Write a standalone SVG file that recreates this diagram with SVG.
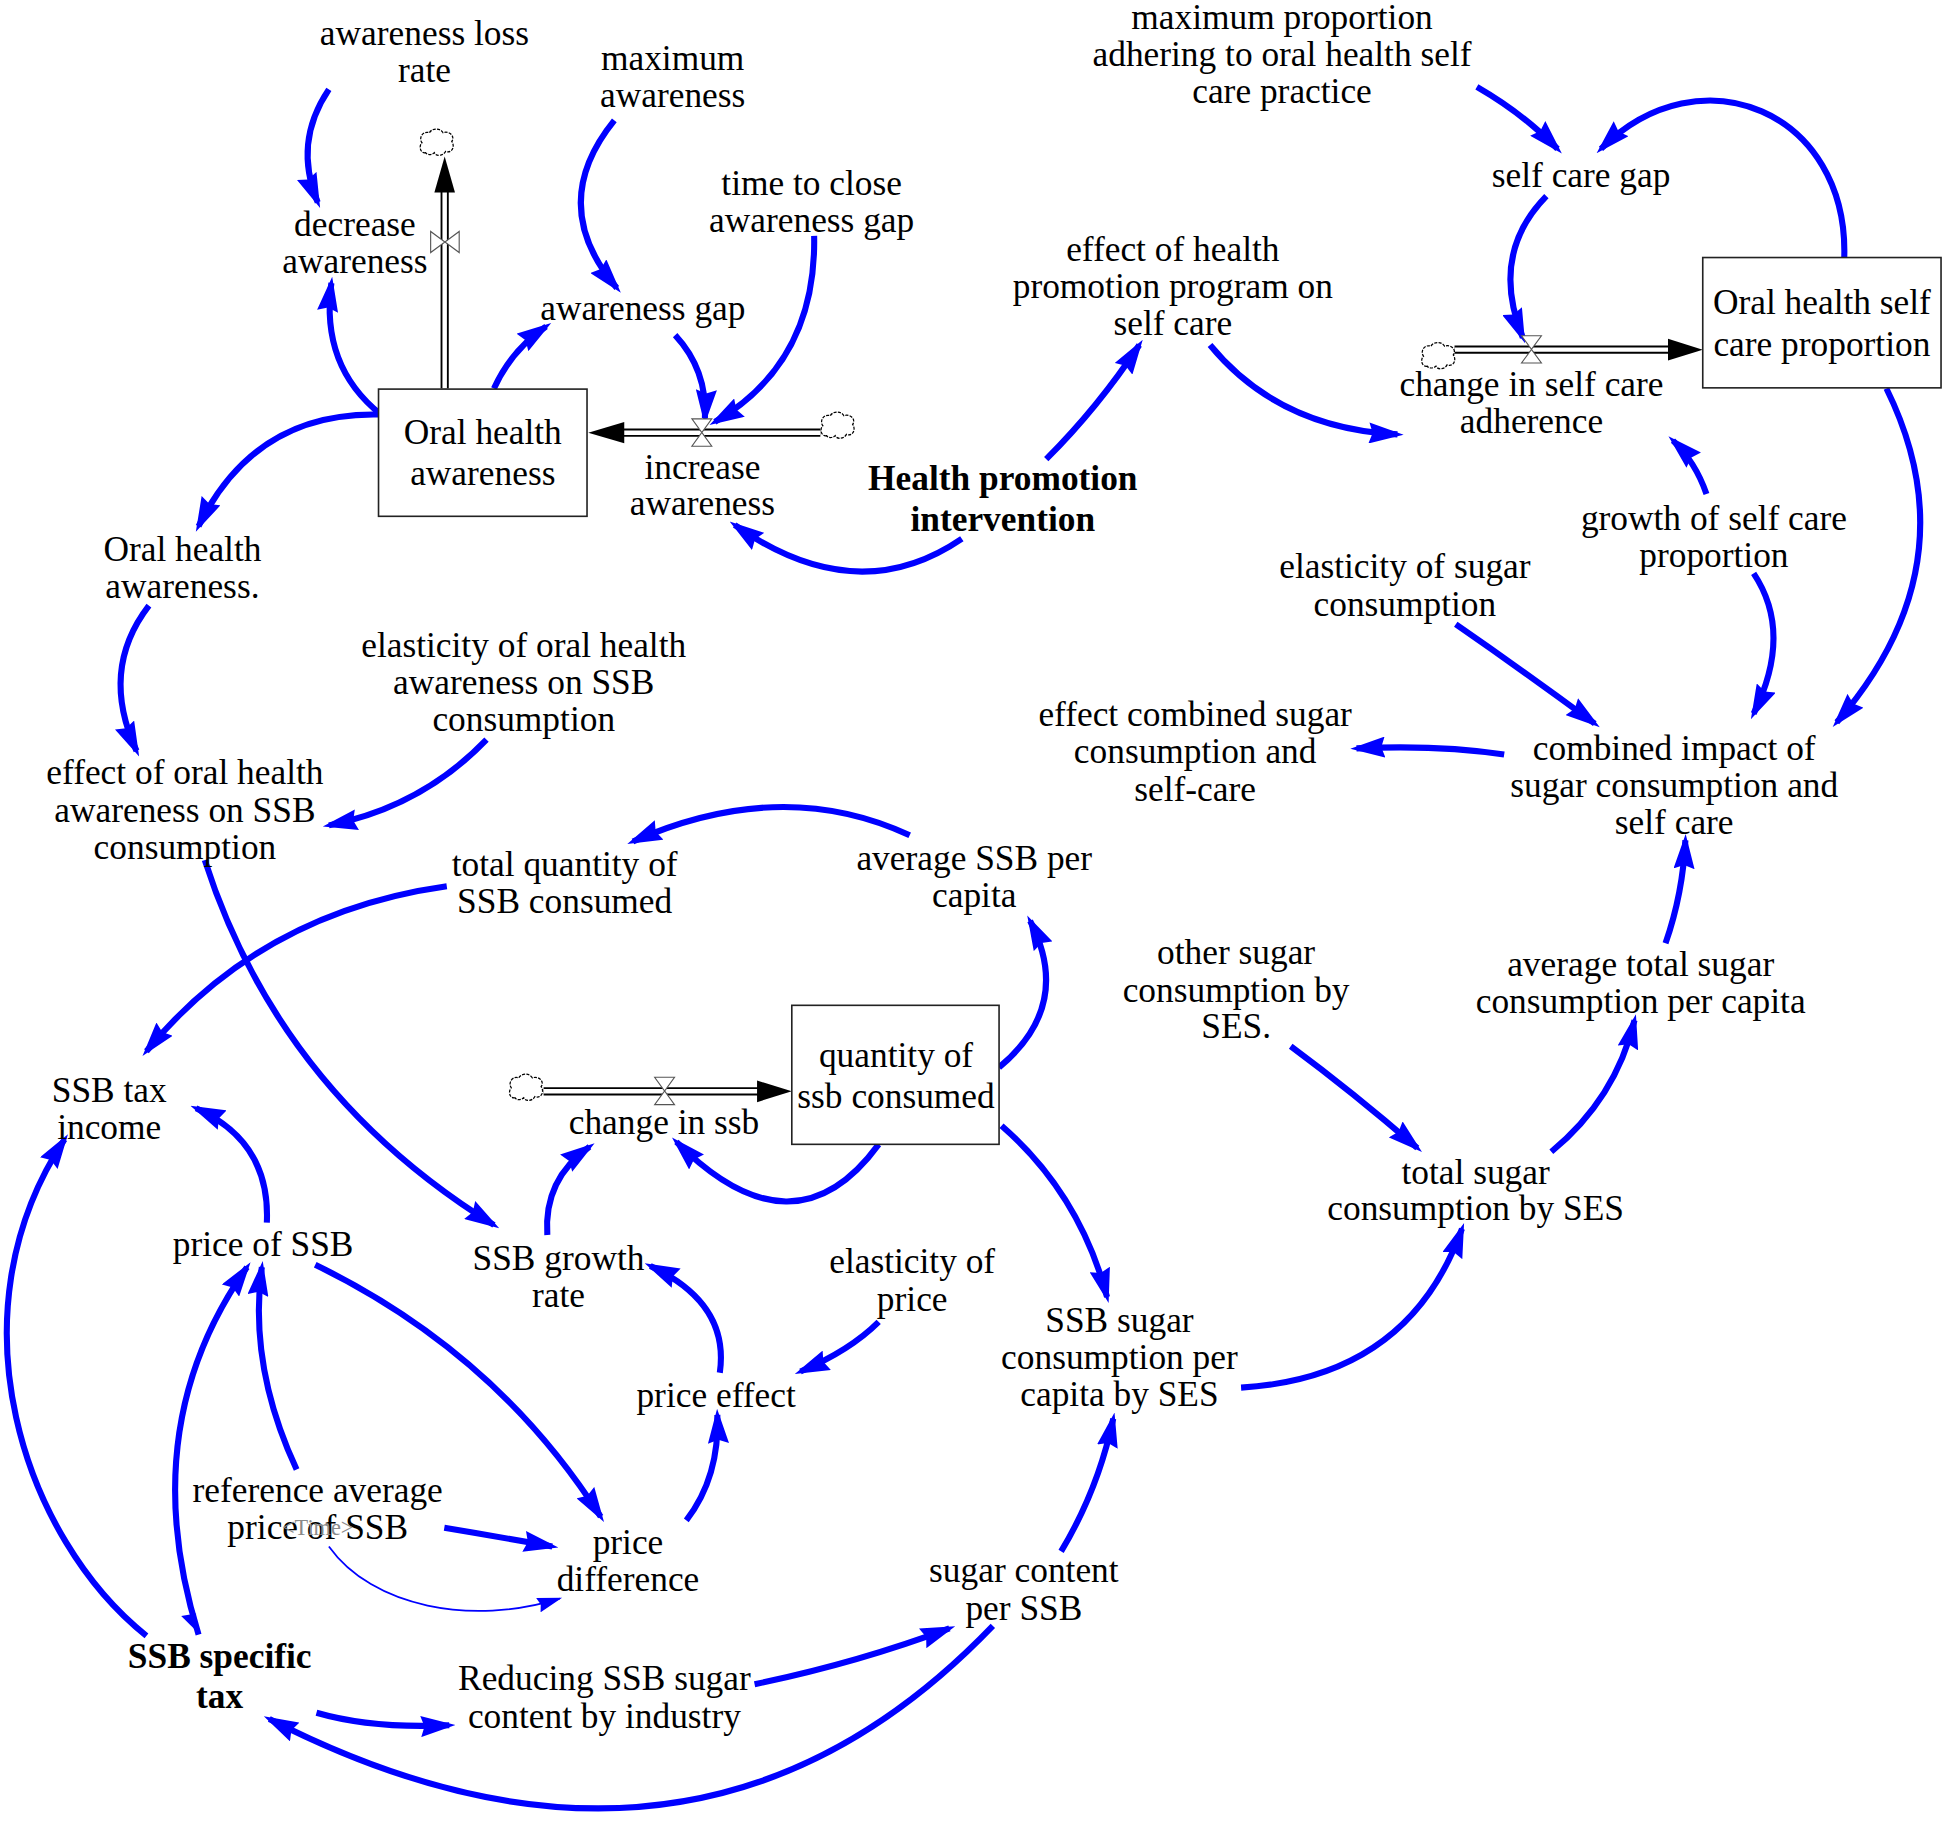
<svg xmlns="http://www.w3.org/2000/svg" width="1946" height="1822" viewBox="0 0 1946 1822">
<style>
.t{font-family:"Liberation Serif","Times New Roman",serif;font-size:28.5px;text-anchor:middle;fill:#000}
.b{font-weight:bold}
.tm{font-family:"Liberation Serif","Times New Roman",serif;font-size:18px;text-anchor:middle;fill:#8a8a8a}
.lnk{fill:none;stroke:#0000ff;stroke-width:4.9;marker-end:url(#ah)}
.thin{fill:none;stroke:#0000ff;stroke-width:1.4;marker-end:url(#ahs)}
.box{fill:#fff;stroke:#222;stroke-width:1.3}
.pipeo{stroke:#000;stroke-width:6.6;fill:none}
.pipei{stroke:#fff;stroke-width:3.6;fill:none}
.valve{fill:#fff;stroke:#555;stroke-width:0.9}
.cloud{fill:#fff;stroke:#000;stroke-width:1;stroke-dasharray:2.5 1}
.fa{fill:#000}
</style>
<defs>
<marker id="ah" viewBox="0 0 28 17" refX="23" refY="8.5" markerWidth="28" markerHeight="17" markerUnits="userSpaceOnUse" orient="auto"><path d="M0,0 L28,8.5 L0,17 L3,8.5 Z" fill="#0000ff"/></marker>
<marker id="ahs" viewBox="0 0 20 12" refX="18" refY="6" markerWidth="20" markerHeight="12" markerUnits="userSpaceOnUse" orient="auto"><path d="M0,0 L20,6 L0,12 L2,6 Z" fill="#0000ff"/></marker>
<path id="cloud" d="M-9,8 C-13,9 -15,3 -12,0 C-15,-4 -11,-10 -6,-8 C-4,-12 3,-12 5,-8 C10,-10 15,-5 12,-1 C15,3 12,9 7,7 C5,11 -1,11 -2,8 C-4,10 -8,10 -9,8 Z"/>
<path id="vv" d="M-8,-11 L8,-11 L0,0 Z M-8,11 L8,11 L0,0 Z"/>
<path id="vh" d="M-11.5,-8.5 L-11.5,8.5 L0,0 Z M11.5,-8.5 L11.5,8.5 L0,0 Z"/>
</defs>
<rect width="1946" height="1822" fill="#fff"/>
<g transform="scale(1.24107,1.24114)">

<g id="connectors">
<path class="lnk" d="M265,72 Q236,115 256,163"/>
<path class="lnk" d="M307,334 Q258,295 267,228"/>
<path class="lnk" d="M398,313 Q412,282 440,263"/>
<path class="lnk" d="M495,97 Q440,165 497,232"/>
<path class="lnk" d="M544,270 Q570,298 568,337"/>
<path class="lnk" d="M656,190 Q658,292 576,340"/>
<path class="lnk" d="M775,434 Q690,492 592,423"/>
<path class="lnk" d="M843,370 Q885,328 918,278"/>
<path class="lnk" d="M975,278 Q1030,345 1126,350"/>
<path class="lnk" d="M1486,208 C1490,90 1370,40 1290,120"/>
<path class="lnk" d="M1190,70 Q1228,92 1255,120"/>
<path class="lnk" d="M1246,158 Q1200,205 1227,272"/>
<path class="lnk" d="M1375,398 Q1366,372 1348,355"/>
<path class="lnk" d="M1520,313 Q1590,455 1480,582"/>
<path class="lnk" d="M1413,462 Q1445,510 1413,575"/>
<path class="lnk" d="M1173,503 Q1228,541 1285,583"/>
<path class="lnk" d="M1212,608 Q1160,600 1093,603"/>
<path class="lnk" d="M305,334 Q205,332 160,424"/>
<path class="lnk" d="M120,488 Q80,540 110,605"/>
<path class="lnk" d="M392,596 Q340,650 265,665"/>
<path class="lnk" d="M165,693 Q225,880 398,987"/>
<path class="lnk" d="M360,714 Q210,735 118,847"/>
<path class="lnk" d="M733,673 Q630,625 510,678"/>
<path class="lnk" d="M805,860 Q865,810 830,742"/>
<path class="lnk" d="M708,922 Q640,1015 545,920"/>
<path class="lnk" d="M441,995 Q438,950 475,924"/>
<path class="lnk" d="M580,1106 Q588,1050 524,1020"/>
<path class="lnk" d="M708,1065 Q685,1088 645,1105"/>
<path class="lnk" d="M553,1225 Q580,1190 578,1140"/>
<path class="lnk" d="M254,1019 Q400,1090 484,1222"/>
<path class="lnk" d="M239,1184 Q200,1100 211,1021"/>
<path class="lnk" d="M358,1231 Q400,1238 445,1246"/>
<path class="thin" d="M265,1246 C300,1295 380,1310 451,1288"/>
<path class="lnk" d="M215,985 Q218,920 158,893"/>
<path class="lnk" d="M118,1318 C20,1240 -42,1060 52,918"/>
<path class="lnk" d="M160,1317 Q108,1150 199,1021"/>
<path d="M146,1302 L158,1300 L158,1314 Z" fill="#0000ff"/>
<path class="lnk" d="M255,1380 Q300,1393 362,1390"/>
<path class="lnk" d="M608,1357 Q690,1340 765,1312"/>
<path class="lnk" d="M800,1310 Q560,1560 217,1385"/>
<path class="lnk" d="M855,1250 Q885,1200 897,1143"/>
<path class="lnk" d="M807,907 Q870,962 892,1045"/>
<path class="lnk" d="M1000,1118 Q1135,1110 1178,990"/>
<path class="lnk" d="M1040,843 Q1090,880 1142,925"/>
<path class="lnk" d="M1250,928 Q1302,885 1317,822"/>
<path class="lnk" d="M1342,760 Q1356,720 1358,677"/>
</g>

<g id="flows">
<g id="flow-decrease">
<path class="pipeo" d="M358.3,313 V152"/><path class="pipei" d="M358.3,313 V152"/>
<polygon class="fa" points="358.3,126 350,155 366.6,155"/>
<use href="#cloud" class="cloud" x="352" y="115"/>
<use href="#vh" class="valve" x="358.5" y="195"/>
</g>
<g id="flow-increase">
<path class="pipeo" d="M661,348.6 H500"/><path class="pipei" d="M661,348.6 H500"/>
<polygon class="fa" points="474,348.6 503,340 503,357.2"/>
<use href="#cloud" class="cloud" x="675" y="343"/>
<use href="#vv" class="valve" x="565.5" y="348.5"/>
</g>
<g id="flow-selfcare">
<path class="pipeo" d="M1172,281.7 H1347"/><path class="pipei" d="M1172,281.7 H1347"/>
<polygon class="fa" points="1372,281.7 1344,273 1344,290.4"/>
<use href="#cloud" class="cloud" x="1159" y="287"/>
<use href="#vv" class="valve" x="1234" y="281.5"/>
</g>
<g id="flow-ssb">
<path class="pipeo" d="M438,879.3 H613"/><path class="pipei" d="M438,879.3 H613"/>
<polygon class="fa" points="638,879.3 610,870.6 610,888"/>
<use href="#cloud" class="cloud" x="424" y="876.5"/>
<use href="#vv" class="valve" x="535.5" y="879"/>
</g>
</g>

<g id="n-awareness-loss-rate"><text class="t" y="36"><tspan x="342">awareness loss</tspan><tspan x="342" dy="30">rate</tspan></text></g>
<g id="n-maximum-awareness"><text class="t" y="56"><tspan x="542">maximum</tspan><tspan x="542" dy="30">awareness</tspan></text></g>
<g id="n-time-to-close"><text class="t" y="157"><tspan x="654">time to close</tspan><tspan x="654" dy="30">awareness gap</tspan></text></g>
<g id="n-decrease-awareness"><text class="t" y="190"><tspan x="286">decrease</tspan><tspan x="286" dy="30">awareness</tspan></text></g>
<g id="n-awareness-gap"><text class="t" x="518" y="258">awareness gap</text></g>
<g id="n-oral-health-awareness"><rect class="box" x="305" y="313.5" width="168" height="102.5"/><text class="t" y="358"><tspan x="389">Oral health</tspan><tspan x="389" dy="33">awareness</tspan></text></g>
<g id="n-increase-awareness"><text class="t" y="386"><tspan x="566">increase</tspan><tspan x="566" dy="29">awareness</tspan></text></g>
<g id="n-health-promotion"><text class="t b" y="395"><tspan x="808">Health promotion</tspan><tspan x="808" dy="33">intervention</tspan></text></g>
<g id="n-effect-health-promotion"><text class="t" y="210"><tspan x="945">effect of health</tspan><tspan x="945" dy="30">promotion program on</tspan><tspan x="945" dy="30">self care</tspan></text></g>
<g id="n-max-proportion"><text class="t" y="23"><tspan x="1033">maximum proportion</tspan><tspan x="1033" dy="30">adhering to oral health self</tspan><tspan x="1033" dy="30">care practice</tspan></text></g>
<g id="n-self-care-gap"><text class="t" x="1274" y="151">self care gap</text></g>
<g id="n-oral-health-self-care"><rect class="box" x="1372" y="207.5" width="192" height="105"/><text class="t" y="253"><tspan x="1468">Oral health self</tspan><tspan x="1468" dy="34">care proportion</tspan></text></g>
<g id="n-change-self-care"><text class="t" y="319"><tspan x="1234">change in self care</tspan><tspan x="1234" dy="30">adherence</tspan></text></g>
<g id="n-growth-self-care"><text class="t" y="427"><tspan x="1381">growth of self care</tspan><tspan x="1381" dy="30">proportion</tspan></text></g>
<g id="n-elasticity-sugar"><text class="t" y="466"><tspan x="1132">elasticity of sugar</tspan><tspan x="1132" dy="30">consumption</tspan></text></g>
<g id="n-effect-combined"><text class="t" y="585"><tspan x="963">effect combined sugar</tspan><tspan x="963" dy="30">consumption and</tspan><tspan x="963" dy="30">self-care</tspan></text></g>
<g id="n-combined-impact"><text class="t" y="612"><tspan x="1349">combined impact of</tspan><tspan x="1349" dy="30">sugar consumption and</tspan><tspan x="1349" dy="30">self care</tspan></text></g>
<g id="n-oral-health-awareness-shadow"><text class="t" y="452"><tspan x="147">Oral health</tspan><tspan x="147" dy="30">awareness.</tspan></text></g>
<g id="n-elasticity-oral"><text class="t" y="529"><tspan x="422">elasticity of oral health</tspan><tspan x="422" dy="30">awareness on SSB</tspan><tspan x="422" dy="30">consumption</tspan></text></g>
<g id="n-effect-oral"><text class="t" y="632"><tspan x="149">effect of oral health</tspan><tspan x="149" dy="30">awareness on SSB</tspan><tspan x="149" dy="30">consumption</tspan></text></g>
<g id="n-total-quantity"><text class="t" y="706"><tspan x="455">total quantity of</tspan><tspan x="455" dy="30">SSB consumed</tspan></text></g>
<g id="n-average-ssb"><text class="t" y="701"><tspan x="785">average SSB per</tspan><tspan x="785" dy="30">capita</tspan></text></g>
<g id="n-other-sugar"><text class="t" y="777"><tspan x="996">other sugar</tspan><tspan x="996" dy="30">consumption by</tspan><tspan x="996" dy="29">SES.</tspan></text></g>
<g id="n-average-total-sugar"><text class="t" y="786"><tspan x="1322">average total sugar</tspan><tspan x="1322" dy="30">consumption per capita</tspan></text></g>
<g id="n-ssb-tax-income"><text class="t" y="888"><tspan x="88">SSB tax</tspan><tspan x="88" dy="30">income</tspan></text></g>
<g id="n-quantity-ssb"><rect class="box" x="638" y="810" width="167" height="112"/><text class="t" y="860"><tspan x="722">quantity of</tspan><tspan x="722" dy="33">ssb consumed</tspan></text></g>
<g id="n-change-ssb"><text class="t" x="535" y="914">change in ssb</text></g>
<g id="n-total-sugar"><text class="t" y="954"><tspan x="1189">total sugar</tspan><tspan x="1189" dy="29">consumption by SES</tspan></text></g>
<g id="n-price-ssb"><text class="t" x="212" y="1012">price of SSB</text></g>
<g id="n-ssb-growth"><text class="t" y="1023"><tspan x="450">SSB growth</tspan><tspan x="450" dy="30">rate</tspan></text></g>
<g id="n-elasticity-price"><text class="t" y="1026"><tspan x="735">elasticity of</tspan><tspan x="735" dy="30">price</tspan></text></g>
<g id="n-ssb-sugar-consumption"><text class="t" y="1073"><tspan x="902">SSB sugar</tspan><tspan x="902" dy="30">consumption per</tspan><tspan x="902" dy="30">capita by SES</tspan></text></g>
<g id="n-price-effect"><text class="t" x="577" y="1134">price effect</text></g>
<g id="n-reference-price"><text class="t" y="1210"><tspan x="256">reference average</tspan><tspan x="256" dy="30">price of SSB</tspan></text></g>
<g id="n-time"><text class="tm" x="256" y="1237">&lt;Time&gt;</text></g>
<g id="n-price-difference"><text class="t" y="1252"><tspan x="506">price</tspan><tspan x="506" dy="30">difference</tspan></text></g>
<g id="n-sugar-content"><text class="t" y="1275"><tspan x="825">sugar content</tspan><tspan x="825" dy="30">per SSB</tspan></text></g>
<g id="n-ssb-specific-tax"><text class="t b" y="1344"><tspan x="177">SSB specific</tspan><tspan x="177" dy="32">tax</tspan></text></g>
<g id="n-reducing-ssb-sugar"><text class="t" y="1362"><tspan x="487">Reducing SSB sugar</tspan><tspan x="487" dy="30">content by industry</tspan></text></g>
</g>
</svg>
